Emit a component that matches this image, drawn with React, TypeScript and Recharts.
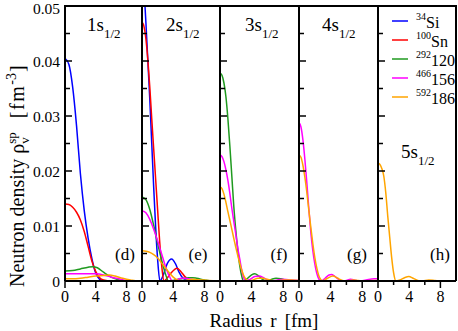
import { LineChart, Line, XAxis, YAxis } from "recharts";

type Pt = [number, number];

// radius r [fm], density [fm^-3]
// 1s1/2
const si34_1s: Pt[] = [[0, 0.0405], [0.5, 0.0394], [1, 0.0352], [1.5, 0.0282], [2, 0.0195], [2.5, 0.0128], [3, 0.0078], [3.5, 0.004], [4, 0.0014], [4.5, 0.0003], [5, 0], [10, 0]];
const sn100_1s: Pt[] = [[0, 0.014], [0.5, 0.0139], [1, 0.0134], [1.5, 0.0125], [2, 0.0111], [2.5, 0.009], [3, 0.0063], [3.5, 0.0036], [4, 0.0017], [4.5, 0.0006], [5, 0.0002], [6, 0], [10, 0]];
const z120_1s: Pt[] = [[0, 0.0018], [1, 0.0019], [2, 0.0022], [3, 0.0025], [3.6, 0.0026], [4.2, 0.0024], [5, 0.0016], [6, 0.0007], [7, 0.0002], [8, 0], [10, 0]];
const z156_1s: Pt[] = [[0, 0.0013], [2, 0.0013], [4, 0.0013], [5, 0.0011], [6, 0.0007], [7, 0.0004], [8, 0.0001], [9, 0], [10, 0]];
const z186_1s: Pt[] = [[0, 0.0004], [1, 0.0004], [2, 0.0005], [3, 0.0007], [4, 0.0009], [5, 0.001], [5.8, 0.0011], [6.5, 0.0009], [7.5, 0.0005], [8.5, 0.0002], [9.5, 0], [10, 0]];

// 2s1/2
const si34_2s: Pt[] = [[0, 0.056], [0.25, 0.053], [0.5, 0.047], [0.75, 0.04], [1, 0.033], [1.25, 0.025], [1.5, 0.017], [1.75, 0.0098], [2, 0.004], [2.3, 0], [2.75, 0.0012], [3.25, 0.0032], [3.8, 0.004], [4.3, 0.0031], [4.75, 0.0016], [5.2, 0.0006], [5.7, 0.0002], [6.5, 0], [10, 0]];
const sn100_2s: Pt[] = [[0, 0.0471], [0.25, 0.0463], [0.5, 0.044], [0.75, 0.0402], [1, 0.0352], [1.25, 0.0295], [1.5, 0.024], [1.75, 0.0185], [2, 0.013], [2.25, 0.0075], [2.5, 0.0032], [2.8, 0], [3.2, 0.0005], [3.7, 0.0014], [4.5, 0.0023], [5, 0.0017], [5.5, 0.0008], [6, 0.0003], [7, 0], [10, 0]];
const z120_2s: Pt[] = [[0, 0.0153], [0.5, 0.0148], [1, 0.013], [1.5, 0.0101], [2, 0.0069], [2.5, 0.0039], [3, 0.0013], [3.4, 0], [4, 0.0001], [5, 0.0004], [6, 0.0006], [6.5, 0.0006], [7, 0.0005], [8, 0.0002], [9, 0], [10, 0]];
const z156_2s: Pt[] = [[0, 0.0128], [0.5, 0.0124], [1, 0.0112], [1.5, 0.0094], [2, 0.0073], [2.5, 0.005], [3, 0.0027], [3.5, 0.0009], [3.9, 0], [4.4, 0.0002], [5.1, 0.0005], [5.6, 0.0005], [6.3, 0.0003], [7.2, 0.0001], [8, 0], [10, 0]];
const z186_2s: Pt[] = [[0, 0.0055], [0.5, 0.0054], [1, 0.0052], [1.5, 0.0048], [2, 0.0042], [2.5, 0.0033], [3, 0.0024], [3.5, 0.0015], [4, 0.0007], [4.5, 0.0002], [4.9, 0], [5.5, 0.0001], [6.5, 0.0003], [7.5, 0.0002], [8.5, 0.0001], [10, 0]];

// 3s1/2
const z120_3s: Pt[] = [[0, 0.0378], [0.25, 0.0374], [0.5, 0.036], [0.75, 0.0335], [1, 0.0295], [1.25, 0.0245], [1.5, 0.019], [1.75, 0.0135], [2, 0.0092], [2.25, 0.0056], [2.5, 0.0028], [2.75, 0.0009], [2.95, 0], [3.5, 0.0005], [4, 0.0011], [4.4, 0.0013], [4.9, 0.0009], [5.4, 0.0003], [5.9, 0], [6.5, 0.0003], [7.1, 0.0005], [7.7, 0.0004], [8.5, 0.0001], [9.2, 0], [10, 0]];
const z156_3s: Pt[] = [[0, 0.0229], [0.25, 0.0226], [0.5, 0.0217], [0.75, 0.0202], [1, 0.0183], [1.25, 0.0159], [1.5, 0.0132], [1.75, 0.0108], [2, 0.0085], [2.25, 0.006], [2.5, 0.004], [2.75, 0.002], [3, 0.0006], [3.2, 0], [3.8, 0.0003], [4.4, 0.0008], [5, 0.0009], [5.5, 0.0006], [6.1, 0.0001], [6.5, 0], [7.3, 0.0002], [8, 0.0003], [9, 0.0002], [10, 0.0001]];
const z186_3s: Pt[] = [[0, 0.0171], [0.25, 0.0168], [0.5, 0.0158], [0.75, 0.0143], [1, 0.0126], [1.25, 0.011], [1.5, 0.0094], [1.75, 0.0077], [2, 0.0061], [2.25, 0.0046], [2.5, 0.0032], [2.75, 0.002], [3, 0.001], [3.3, 0.0003], [3.6, 0], [4.2, 0.0002], [4.8, 0.0005], [5.4, 0.0005], [6, 0.0003], [6.6, 0.0001], [7.2, 0], [8, 0.0002], [9, 0.0002], [10, 0.0001]];

// 4s1/2
const z156_4s: Pt[] = [[0, 0.0288], [0.25, 0.028], [0.5, 0.0256], [0.75, 0.022], [1, 0.0177], [1.25, 0.013], [1.5, 0.0088], [1.75, 0.0055], [2, 0.0031], [2.25, 0.0014], [2.5, 0.0004], [2.8, 0], [3.3, 0.0005], [3.8, 0.0011], [4.1, 0.0012], [4.5, 0.0009], [5, 0.0003], [5.5, 0], [6, 0.0001], [6.5, 0.0003], [7, 0.0002], [7.6, 0], [8.5, 0.0002], [9.5, 0.0004], [10, 0.0004]];
const z186_4s: Pt[] = [[0, 0.0229], [0.25, 0.0225], [0.5, 0.021], [0.75, 0.0188], [1, 0.016], [1.25, 0.0128], [1.5, 0.0097], [1.75, 0.0068], [2, 0.0043], [2.25, 0.0024], [2.5, 0.001], [2.75, 0.0003], [3, 0], [3.6, 0.0005], [4.3, 0.0009], [4.9, 0.0005], [5.5, 0.0001], [6, 0], [6.8, 0.0002], [7.5, 0.0001], [8.2, 0], [9.2, 0.0001], [10, 0.0001]];

// 5s1/2
const z186_5s: Pt[] = [[0, 0.0214], [0.25, 0.0212], [0.5, 0.0204], [0.75, 0.019], [1, 0.016], [1.25, 0.0118], [1.5, 0.008], [1.75, 0.0043], [2, 0.0015], [2.3, 0], [2.8, 0.0002], [3.4, 0.0006], [3.95, 0.0008], [4.5, 0.0005], [5.1, 0.0001], [5.6, 0], [6.5, 0.0002], [7.3, 0.0001], [8, 0], [10, 0]];

const nucleusMass = ["34", "100", "292", "466", "592"];
const nucleusName = ["Si", "Sn", "120", "156", "186"];
const stateNames = ["1s", "2s", "3s", "4s", "5s"];
const panelTags = ["(d)", "(e)", "(f)", "(g)", "(h)"];
const xTicks = [0, 2, 4, 6, 8];
const yTicks = [0, 0.005, 0.01, 0.015, 0.02, 0.025, 0.03, 0.035, 0.04, 0.045, 0.05];

const colors = ["#0000ff", "#ff0000", "#1f9a1f", "#ff00ff", "#ffa500"];

// series per panel: [nucleus index, points]
const panels: Array<Array<[number, Pt[]]>> = [
  [[0, si34_1s], [1, sn100_1s], [2, z120_1s], [3, z156_1s], [4, z186_1s]],
  [[0, si34_2s], [1, sn100_2s], [2, z120_2s], [3, z156_2s], [4, z186_2s]],
  [[2, z120_3s], [3, z156_3s], [4, z186_3s]],
  [[3, z156_4s], [4, z186_4s]],
  [[4, z186_5s]],
];

// layout
const W = 458;
const H = 331;
const plotTop = 6;
const plotBottom = 281;
const edges = [65, 142, 220, 299, 378, 456];
const titlePos = [[87, 31], [166, 31], [245, 31], [322, 31], [401, 158]];
const tagX = [125, 198, 279, 357, 440];
const font = "'Liberation Serif', 'Times New Roman', serif";
const frame = { stroke: "#000", strokeWidth: 2 };

const toRows = (pts: Pt[]) => pts.map(([r, v]) => ({ r, v }));

const XTick = ({ x, y, payload }: any) => {
  const major = payload.value % 4 === 0;
  return (
    <g>
      <line x1={x} x2={x} y1={y} y2={y + (major ? 7 : 4)} stroke="#000" strokeWidth={1.5} />
      {major && (
        <text x={x} y={y + 21} textAnchor="middle" fontSize={16} fontFamily={font} fill="#000">
          {payload.value}
        </text>
      )}
    </g>
  );
};

const makeYTick = (withLabels: boolean) => ({ x, y, payload }: any) => {
  const major = Math.round(payload.value * 1000) % 10 === 0;
  // keep the topmost label inside the picture
  const dy = payload.value >= 0.05 ? 8 : 5.5;
  return (
    <g>
      <line x1={x} x2={x + (major ? 7 : 5)} y1={y} y2={y} stroke="#000" strokeWidth={1.5} />
      {withLabels && major && (
        <text x={x - 5} y={y + dy} textAnchor="end" fontSize={15.5} fontFamily={font} fill="#000">
          {payload.value === 0 ? "0" : payload.value.toFixed(2)}
        </text>
      )}
    </g>
  );
};

const Panel = ({ i }: { i: number }) => {
  const left = edges[i];
  const right = edges[i + 1];
  const padL = i === 0 ? 65 : 6;
  const padR = 6;
  return (
    <div style={{ position: "absolute", left: left - padL, top: 0 }}>
      <LineChart
        width={right - left + padL + padR}
        height={H}
        margin={{ top: plotTop, right: padR, bottom: H - plotBottom - 30, left: 0 }}
      >
        <XAxis
          dataKey="r"
          type="number"
          domain={[0, 10]}
          ticks={xTicks}
          interval={0}
          height={30}
          tickSize={0}
          tickMargin={0}
          axisLine={frame}
          tickLine={false}
          tick={XTick}
          allowDataOverflow
        />
        <YAxis
          type="number"
          domain={[0, 0.05]}
          ticks={yTicks}
          interval={0}
          width={padL}
          tickSize={0}
          tickMargin={0}
          axisLine={frame}
          tickLine={false}
          tick={makeYTick(i === 0)}
          allowDataOverflow
        />
        {panels[i].map(([n, pts]) => (
          <Line
            key={n}
            data={toRows(pts)}
            dataKey="v"
            type="monotone"
            stroke={colors[n]}
            strokeWidth={1.5}
            dot={false}
            isAnimationActive={false}
          />
        ))}
      </LineChart>
    </div>
  );
};

const Overlay = () => (
  <svg width={W} height={H} style={{ position: "absolute", left: 0, top: 0, pointerEvents: "none" }} fontFamily={font}>
    {/* top and right edges of the panel frames */}
    <line x1={edges[0] - 1} x2={edges[5] + 1} y1={plotTop} y2={plotTop} stroke="#000" strokeWidth={2} />
    <line x1={edges[5]} x2={edges[5]} y1={plotTop} y2={plotBottom} stroke="#000" strokeWidth={2} />
    {stateNames.map((s, i) => (
      <text key={s} x={titlePos[i][0]} y={titlePos[i][1]} fontSize={19} fill="#000">
        {s}
        <tspan dy={7} fontSize={13}>1/2</tspan>
      </text>
    ))}
    {panelTags.map((t, i) => (
      <text key={t} x={tagX[i]} y={260} fontSize={17} textAnchor="middle" fill="#000">
        {t}
      </text>
    ))}
    {nucleusMass.map((m, k) => {
      const yy = 21 + k * 19;
      return (
        <g key={m}>
          <line x1={392} x2={408} y1={yy} y2={yy} stroke={colors[k]} strokeWidth={1.5} />
          <text x={416} y={yy - 1} fontSize={10} fill="#000">
            {m}
            <tspan dy={8} fontSize={16}>{nucleusName[k]}</tspan>
          </text>
        </g>
      );
    })}
    <text transform="rotate(-90)" x={-287} y={24} textAnchor="start" fontSize={20} fill="#000">
      Neutron density ρ
      <tspan dy={5} fontSize={13}>v</tspan>
      <tspan dx={-6.5} dy={-13} fontSize={13}>sp</tspan>
      <tspan dx={14} dy={8} fontSize={20} letterSpacing={1.5}>[fm</tspan>
      <tspan dy={-8} fontSize={14}>-3</tspan>
      <tspan dx={1} dy={8} fontSize={20}>]</tspan>
    </text>
    <text x={264} y={327} textAnchor="middle" fontSize={19} fill="#000">
      Radius<tspan dx={8}>r</tspan>
      <tspan dx={8}>[fm]</tspan>
    </text>
  </svg>
);

export default function App() {
  return (
    <div style={{ position: "absolute", left: 0, top: 0, width: W, height: H, background: "#fff" }}>
      {[0, 1, 2, 3, 4].map((i) => (
        <Panel key={i} i={i} />
      ))}
      <Overlay />
    </div>
  );
}
